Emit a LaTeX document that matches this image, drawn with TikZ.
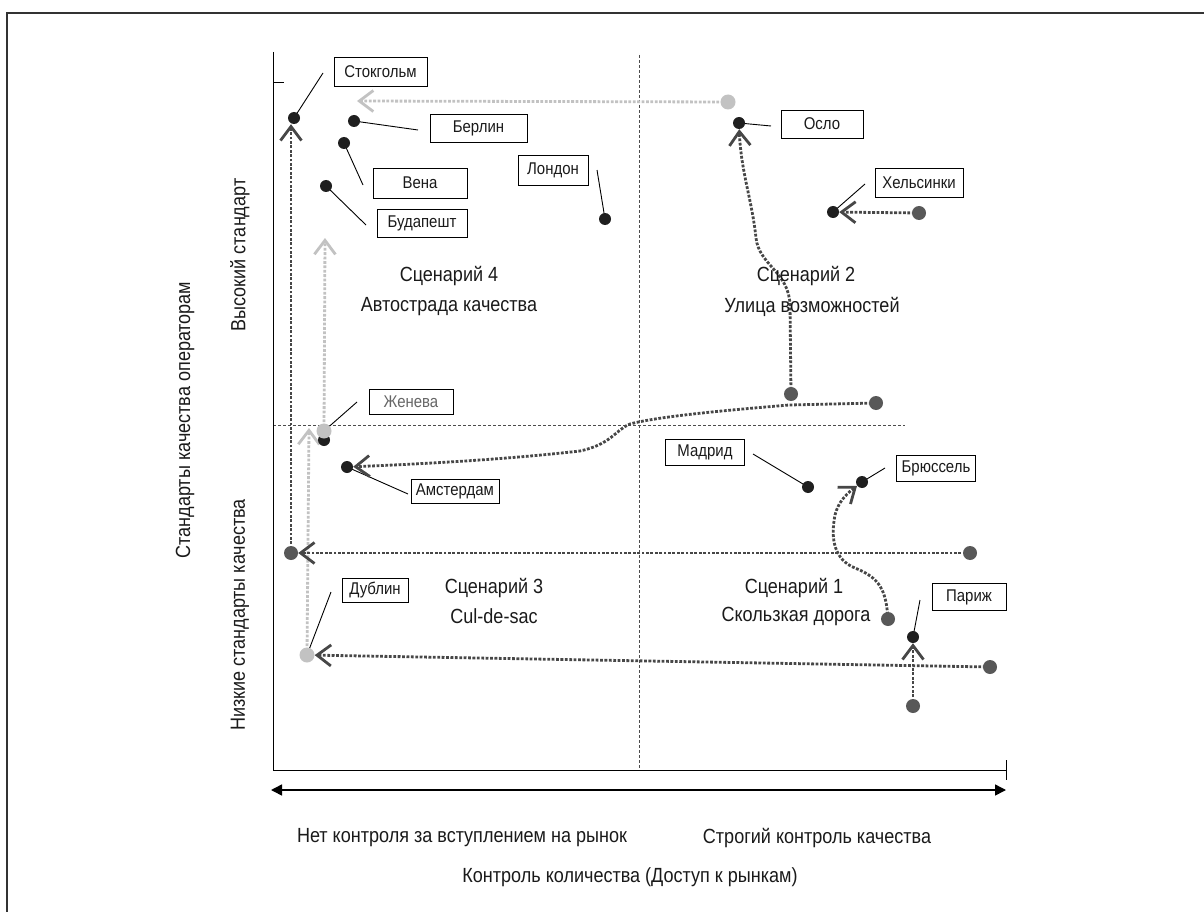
\documentclass[tikz,border=0pt]{standalone}
\usepackage{fontspec}
\setmainfont{Liberation Sans}[FakeStretch=0.88]
\usetikzlibrary{arrows.meta}
\pgfdeclarelayer{bg}
\pgfsetlayers{bg,main}
\definecolor{txt}{HTML}{1A1A1A}
\definecolor{dotc}{HTML}{474747}
\definecolor{dkg}{HTML}{585858}
\definecolor{ltc}{HTML}{C2C2C2}
\definecolor{frm}{HTML}{333333}
\begin{document}
\begin{tikzpicture}[x=1pt,y=-1pt,
  bdot/.style={circle,fill=black!88,inner sep=0pt,minimum size=12pt},
  gdot/.style={circle,fill=dkg,inner sep=0pt,minimum size=14pt},
  ldot/.style={circle,fill=ltc,inner sep=0pt,minimum size=15pt},
  lbl/.style={draw=black,line width=0.9pt,fill=white,inner sep=0pt,minimum height=27pt,font=\fontsize{17pt}{19pt}\selectfont,text=txt},
  leader/.style={black,line width=0.9pt},
  dk/.style={draw=dotc,line width=2.8pt,dash pattern=on 2.8pt off 1.6pt},
  lt/.style={draw=ltc,line width=2.8pt,dash pattern=on 2.8pt off 1.6pt},
  vtip/.style={-{Straight Barb[length=14pt,width=21pt]}},
  quad/.style={draw=black!70,line width=0.8pt,dash pattern=on 3pt off 2pt},
  big/.style={font=\fontsize{20.5pt}{23pt}\selectfont,text=txt},
  axis/.style={black,line width=1pt}
]
\useasboundingbox (0,0) rectangle (1204,912);
% frame
\draw[frm,line width=1.5pt] (7,912) -- (7,13) -- (1204,13);

% axes
\coordinate (ytop) at (273,52);
\coordinate (O) at (273,770);
\coordinate (xend) at (1006,770);
\draw[axis] (ytop) -- (O) -- (xend);
\draw[axis] (273,83) -- (284,83);
\draw[axis] (1006,760) -- (1006,780);
\coordinate (arL) at (271,790);
\coordinate (arR) at (1006,790);
\draw[black,line width=1.5pt,{Triangle[length=11pt,width=11pt]}-{Triangle[length=11pt,width=11pt]}] (arL) -- (arR);

% quadrant lines
\coordinate (vq1) at (639,55);
\coordinate (vq2) at (639,770);
\coordinate (hq1) at (273,425);
\coordinate (hq2) at (905,425);

% axis labels
\node[big] (xl1) at (462,838) {Нет контроля за вступлением на рынок};
\node[big] (xl2) at (817,838) {Строгий контроль качества};
\node[big] (xl3) at (630,877) {Контроль количества (Доступ к рынкам)};
\node[big,rotate=90] (yl1) at (185,420) {Стандарты качества операторам};
\node[big,rotate=90] (yl2) at (240,255) {Высокий стандарт};
\node[big,rotate=90] (yl3) at (240,615) {Низкие стандарты качества};

% scenarios
\node[big] (s4a) at (449,276) {Сценарий 4};
\node[big] (s4b) at (449,307) {Автострада качества};
\node[big] (s2a) at (806,276) {Сценарий 2};
\node[big] (s2b) at (812,307) {Улица возможностей};
\node[big] (s3a) at (494,588) {Сценарий 3};
\node[big] (s3b) at (494,616) {Cul-de-sac};
\node[big] (s1a) at (794,588) {Сценарий 1};
\node[big] (s1b) at (796,616) {Скользкая дорога};

% label boxes
\node[lbl,minimum width=93pt,minimum height=29pt] (bstk) at (380.5,71.5) {Стокгольм};
\node[lbl,minimum width=97pt,minimum height=28pt] (bber) at (478.5,128) {Берлин};
\node[lbl,minimum width=94pt,minimum height=30pt] (bvie) at (420,183) {Вена};
\node[lbl,minimum width=90pt,minimum height=28pt] (bbud) at (422,223) {Будапешт};
\node[lbl,minimum width=70pt,minimum height=30pt] (blon) at (553,170) {Лондон};
\node[lbl,minimum width=82pt,minimum height=28pt] (bosl) at (822,124) {Осло};
\node[lbl,minimum width=88pt,minimum height=29pt] (bhel) at (919,182.5) {Хельсинки};
\node[lbl,minimum width=84pt,minimum height=25pt,text=black!60] (bgen) at (411,402) {Женева};
\node[lbl,minimum width=88pt,minimum height=24pt] (bams) at (455,491) {Амстердам};
\node[lbl,minimum width=79pt,minimum height=26pt] (bmad) at (705,452) {Мадрид};
\node[lbl,minimum width=79pt,minimum height=26pt] (bbru) at (936,468) {Брюссель};
\node[lbl,minimum width=66pt,minimum height=24pt] (bdub) at (375,590) {Дублин};
\node[lbl,minimum width=74pt,minimum height=27pt] (bpar) at (969,597) {Париж};

% dots: start points
\node[ldot] (oslG) at (728,102) {};
\node[gdot] (helS) at (919,213) {};
\node[gdot] (oslS) at (791,394) {};
\node[gdot] (amsS) at (876,403) {};
\node[gdot] (lowL) at (291,553) {};
\node[gdot] (lowR) at (970,553) {};
\node[gdot] (bruS) at (888,619) {};
\node[gdot] (dubS) at (990,667) {};
\node[gdot] (parS) at (913,706) {};
% city dots
\node[bdot] (stk) at (294,118) {};
\node[bdot] (ber) at (354,121) {};
\node[bdot] (vie) at (344,143) {};
\node[bdot] (bud) at (326,186) {};
\node[bdot] (lon) at (605,219) {};
\node[bdot] (osl) at (739,123) {};
\node[bdot] (hel) at (833,212) {};
\node[bdot] (genB) at (324,440) {};
\node[ldot] (gen) at (324,431) {};
\node[bdot] (ams) at (347,467) {};
\node[bdot] (mad) at (808,487) {};
\node[bdot] (bru) at (862,482) {};
\node[ldot] (dub) at (307,655) {};
\node[bdot] (par) at (913,637) {};

% free ends
\coordinate (lstkL) at (323,73);
\coordinate (lberL) at (418,130);
\coordinate (lvieL) at (363,185);
\coordinate (lbudL) at (366,225);
\coordinate (llonL) at (597,170);
\coordinate (loslL) at (771,126);
\coordinate (lhelL) at (865,184);
\coordinate (lgenL) at (357,402);
\coordinate (lamsL) at (408,494);
\coordinate (lmadL) at (753,454);
\coordinate (lbruL) at (885,468);
\coordinate (ldubL) at (331,592);
\coordinate (lparL) at (920,600);
\coordinate (oslTip) at (357,101);
\coordinate (genTip) at (325,238);
\coordinate (dubTip) at (309,428);

\begin{pgfonlayer}{bg}
  \draw[quad] (vq1) -- (vq2);
  \draw[quad] (hq1) -- (hq2);
  % leaders
  \draw[leader] (stk.center) -- (lstkL);
  \draw[leader] (ber.center) -- (lberL);
  \draw[leader] (vie.center) -- (lvieL);
  \draw[leader] (bud.center) -- (lbudL);
  \draw[leader] (lon.center) -- (llonL);
  \draw[leader] (osl.center) -- (loslL);
  \draw[leader] (hel.center) -- (lhelL);
  \draw[leader] (gen.center) -- (lgenL);
  \draw[leader] (ams.center) -- (lamsL);
  \draw[leader] (mad.center) -- (lmadL);
  \draw[leader] (bru.center) -- (lbruL);
  \draw[leader] (dub.center) -- (ldubL);
  \draw[leader] (par.center) -- (lparL);
  % light grey movements
  \draw[lt,vtip] (oslG.center) -- (oslTip);
  \draw[lt,vtip] (gen.center) -- (genTip);
  \draw[lt,vtip] (dub.center) -- (dubTip);
  % dark movements
  \draw[dk,vtip] (lowL.center) -- (lowL |- stk.south);
  \draw[dk,vtip] (lowR.center) -- (lowL);
  \draw[dk,vtip] (helS.center) -- (hel);
  \draw[dk,vtip] (parS.center) -- (par);
  \draw[dk,vtip] (dubS.center) -- (dub);
  \draw[dk,vtip] (oslS.center) -- (790,305) .. controls (789,272) and (759,265) .. (756,238) .. controls (752,200) and (741,172) .. (osl);
  \draw[dk,vtip] (amsS.center) -- (789,405) .. controls (730,410) and (660,416) .. (630,424) .. controls (615,430) and (612,444) .. (580,451) .. controls (500,460) and (420,464) .. (ams);
  \draw[dk,vtip] (bruS.center) .. controls (886,590) and (880,578) .. (855,568) .. controls (835,560) and (830,540) .. (835,515) .. controls (838,503) and (845,495) .. (bru);
\end{pgfonlayer}
\end{tikzpicture}
\end{document}
